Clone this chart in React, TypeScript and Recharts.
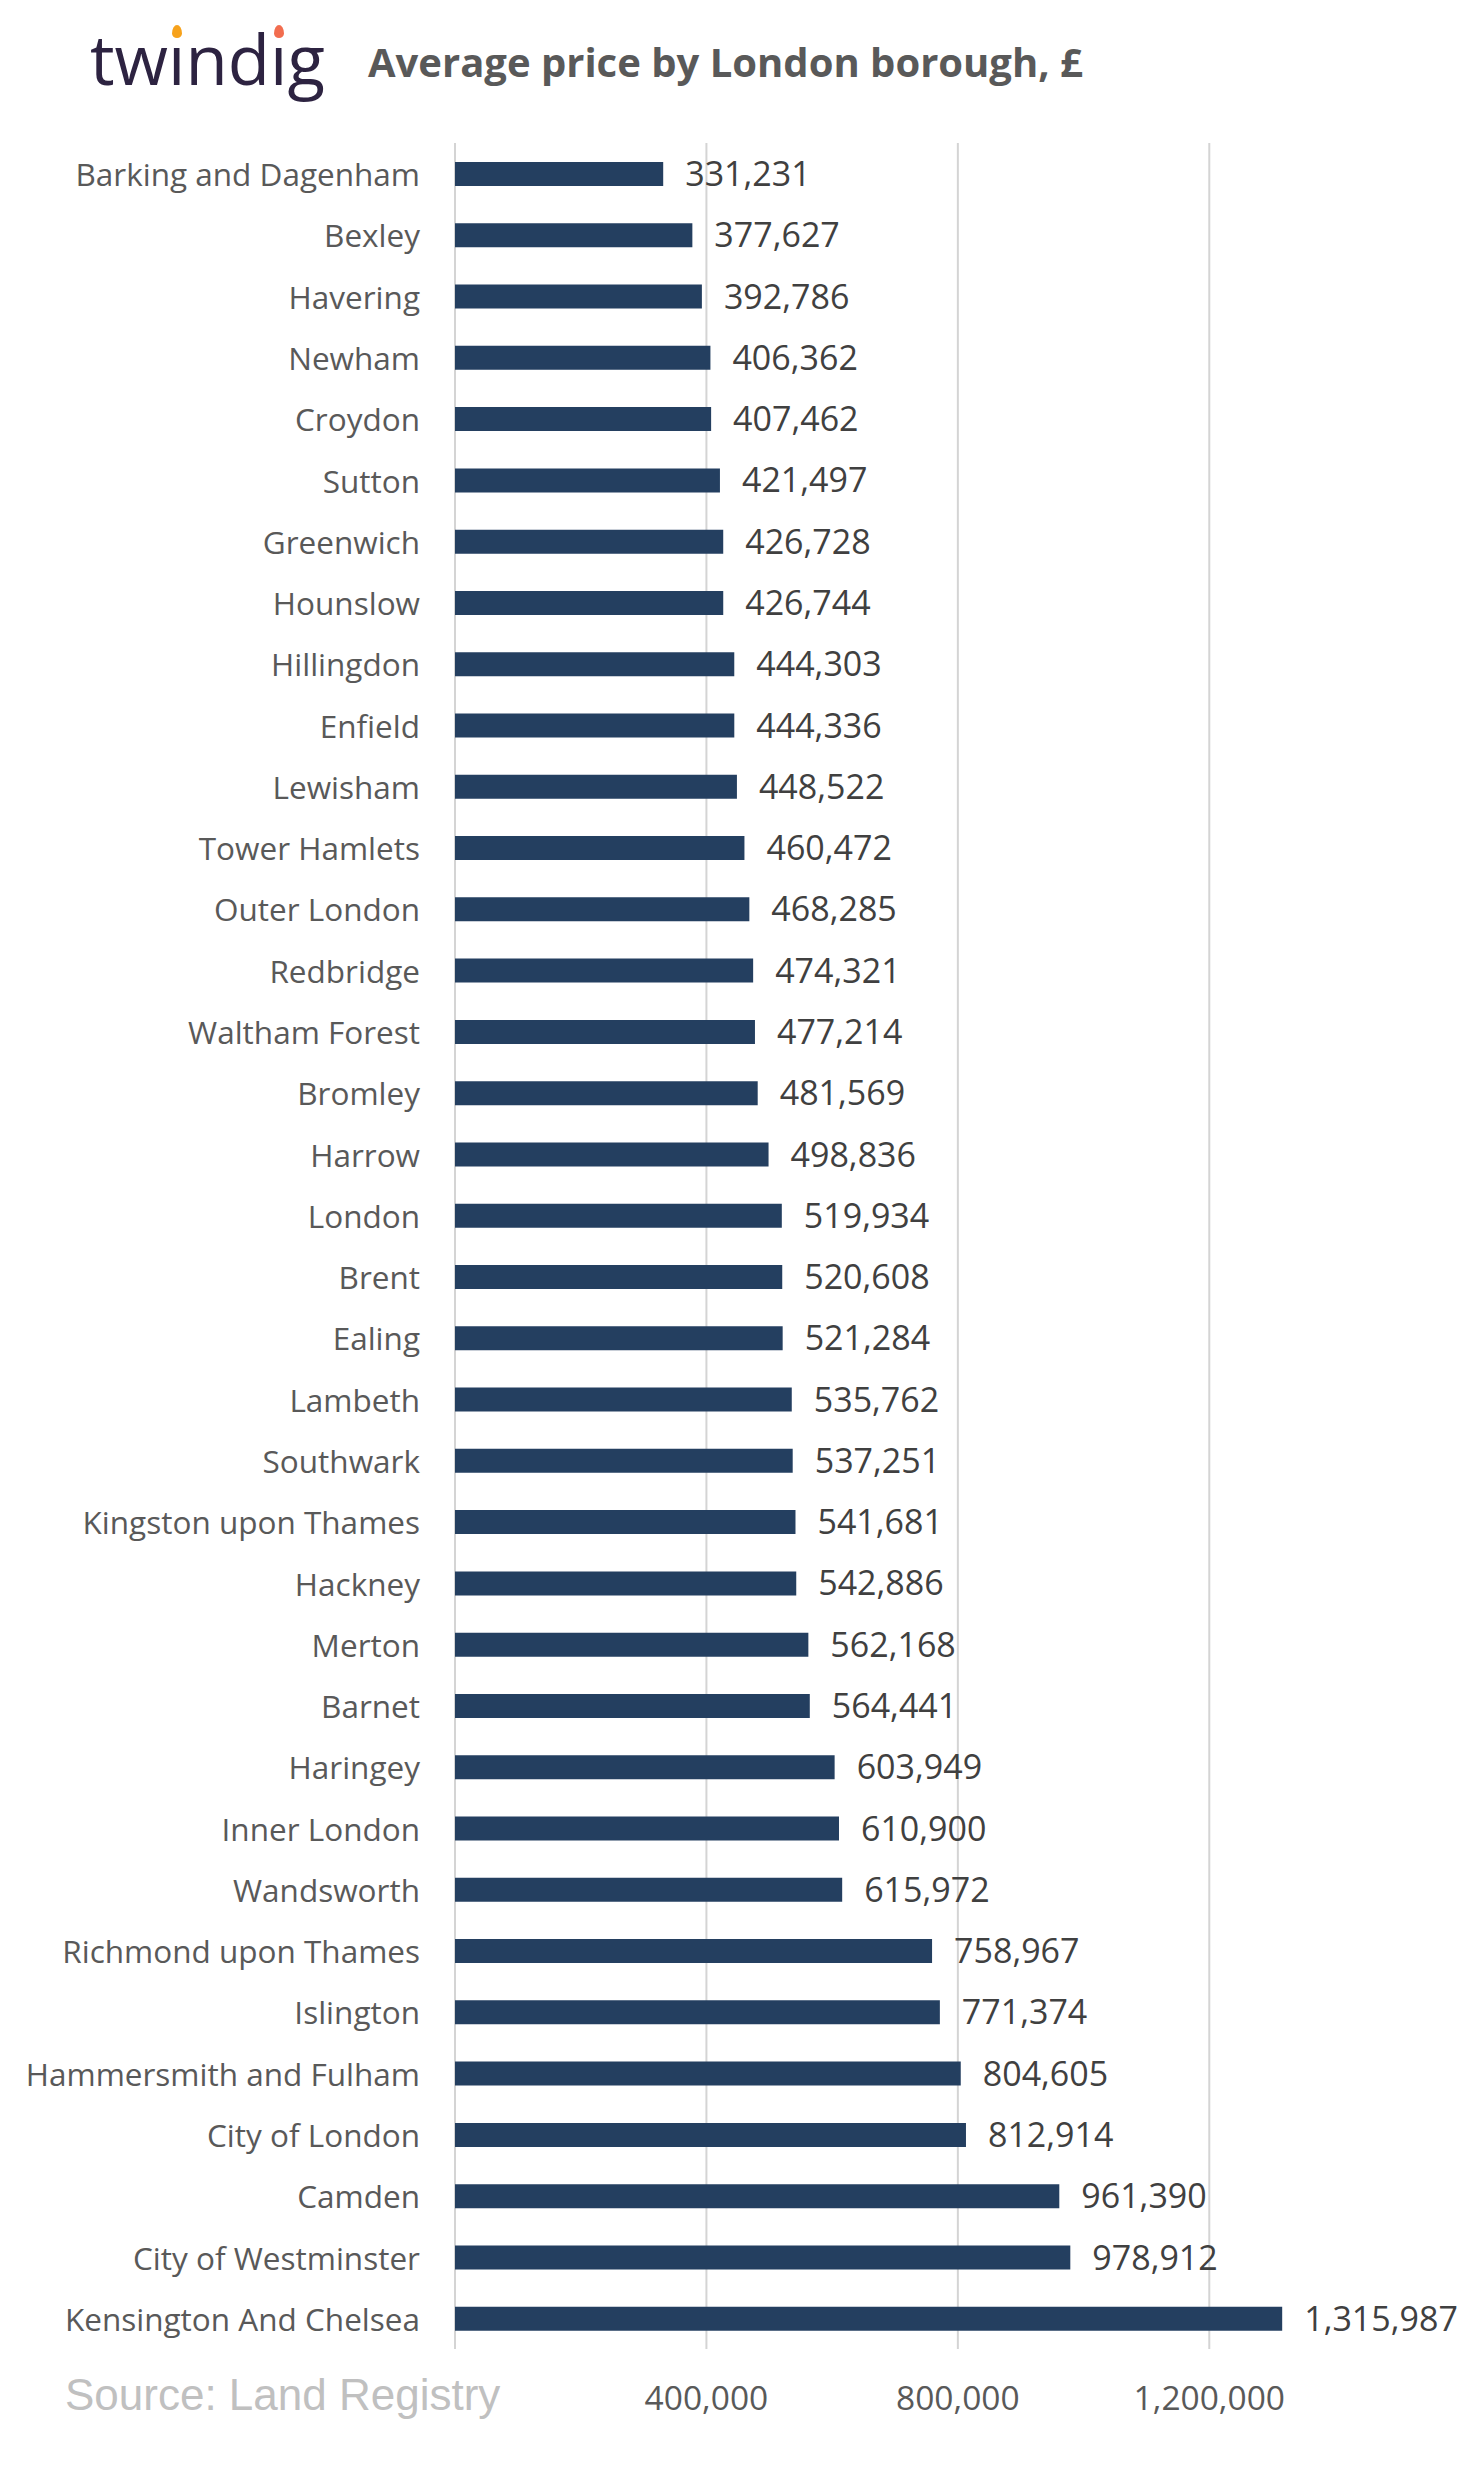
import React from 'react';
import { BarChart, Bar, XAxis, YAxis, CartesianGrid, LabelList } from 'recharts';

const boroughs = [
  'Barking and Dagenham', 'Bexley', 'Havering', 'Newham', 'Croydon', 'Sutton',
  'Greenwich', 'Hounslow', 'Hillingdon', 'Enfield', 'Lewisham', 'Tower Hamlets',
  'Outer London', 'Redbridge', 'Waltham Forest', 'Bromley', 'Harrow', 'London',
  'Brent', 'Ealing', 'Lambeth', 'Southwark', 'Kingston upon Thames', 'Hackney',
  'Merton', 'Barnet', 'Haringey', 'Inner London', 'Wandsworth',
  'Richmond upon Thames', 'Islington', 'Hammersmith and Fulham', 'City of London',
  'Camden', 'City of Westminster', 'Kensington And Chelsea',
];

const prices = [
  331231, 377627, 392786, 406362, 407462, 421497,
  426728, 426744, 444303, 444336, 448522, 460472,
  468285, 474321, 477214, 481569, 498836, 519934,
  520608, 521284, 535762, 537251, 541681, 542886,
  562168, 564441, 603949, 610900, 615972,
  758967, 771374, 804605, 812914,
  961390, 978912, 1315987,
];

const xTicks = [0, 400000, 800000, 1200000];
const xMax = 1400000;

const data = boroughs.map((name, i) => ({ name, price: prices[i] }));

const FONT = '"Open Sans", sans-serif';
const fmt = (v: number) => v.toLocaleString('en-US');

const CategoryTick = (props: any) => {
  const { x, y, payload } = props;
  return (
    <text x={x - 35} y={y} textAnchor="end" dominantBaseline="central"
      fontFamily={FONT} fontSize={31.5} fill="#595959">
      {payload.value}
    </text>
  );
};

const ValueTick = (props: any) => {
  const { x, y, payload } = props;
  if (payload.value === 0) return null;
  return (
    <text x={x} y={y + 46} textAnchor="middle" dominantBaseline="central"
      fontFamily={FONT} fontSize={33.5} fill="#595959">
      {fmt(payload.value)}
    </text>
  );
};

// gridlines only at the labelled ticks (not at the domain end)
const gridX = ({ xAxis, offset }: any) => {
  if (xAxis && typeof xAxis.scale === 'function') {
    return xTicks.map((t) => xAxis.scale(t));
  }
  return xTicks.map((t) => offset.left + (t / xMax) * offset.width);
};

// dotless i with a little coloured flame on top, as in the twindig logo
const LogoI = ({ color }: { color: string }) => (
  <span style={{ position: 'relative' }}>
    ı
    <span style={{
      position: 'absolute', left: '50%', top: 14, width: 10, height: 13,
      marginLeft: -5, background: color, borderRadius: '50% 50% 50% 50% / 65% 65% 35% 35%',
    }} />
  </span>
);

export default function App() {
  return (
    <div style={{ position: 'relative', width: 1482, height: 2479, background: '#fff', fontFamily: FONT }}>
      <style>{'body{margin:0}'}</style>
      <div style={{ position: 'absolute', left: 90, top: 8, fontSize: 69, fontWeight: 500, color: '#2d2341', lineHeight: '100px' }}>
        tw<LogoI color="#f7a21b" />nd<LogoI color="#f26d4f" />g
      </div>
      <div style={{ position: 'absolute', left: 368, top: 36, fontSize: 40, fontWeight: 700, color: '#595959', lineHeight: '52px' }}>
        Average price by London borough, £
      </div>
      <BarChart
        width={1482}
        height={2479}
        data={data}
        layout="vertical"
        margin={{ top: 143, right: 147, bottom: 100, left: 0 }}
        barCategoryGap={0}
      >
        <CartesianGrid horizontal={false} stroke="#d4d4d4" strokeWidth={2}
          verticalCoordinatesGenerator={gridX} />
        <XAxis
          type="number"
          domain={[0, xMax]}
          ticks={xTicks}
          axisLine={false}
          tickLine={false}
          tickSize={0}
          height={30}
          tick={<ValueTick />}
          interval={0}
        />
        <YAxis
          type="category"
          dataKey="name"
          width={455}
          axisLine={false}
          tickLine={false}
          tickSize={0}
          tickMargin={0}
          tick={<CategoryTick />}
          interval={0}
        />
        <Bar dataKey="price" fill="#243f60" barSize={24} isAnimationActive={false}>
          <LabelList dataKey="price" position="right" offset={22} formatter={fmt}
            fontFamily={FONT} fontSize={34} fill="#404040" />
        </Bar>
      </BarChart>
      <div style={{ position: 'absolute', left: 65, top: 2368, fontSize: 44, fontFamily: '"Liberation Sans", Arial, sans-serif', color: '#c0c0c0', lineHeight: '54px' }}>
        Source: Land Registry
      </div>
    </div>
  );
}
